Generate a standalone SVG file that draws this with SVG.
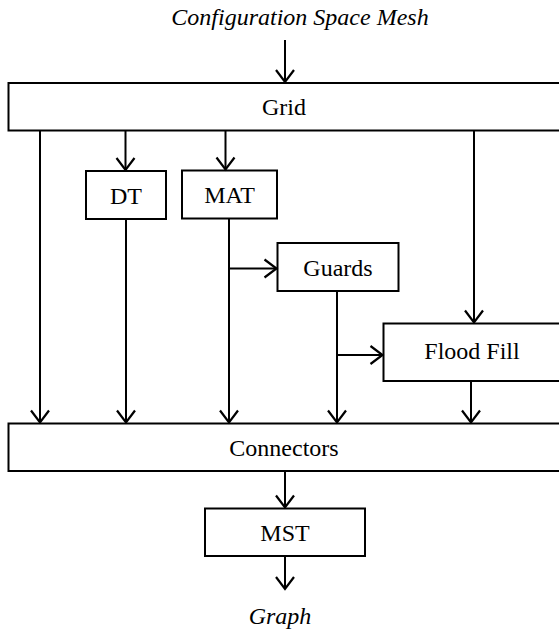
<svg xmlns="http://www.w3.org/2000/svg" width="559" height="631" viewBox="0 0 559 631">
  <style>
    .box { fill: #ffffff; stroke: #000000; stroke-width: 2; }
    .lbl { font-family: "Liberation Serif", "Times New Roman", serif; font-size: 24px; fill: #000000; text-anchor: middle; }
    .io { font-style: italic; }
    .wire { fill: none; stroke: #000000; stroke-width: 2; }
    .arr { marker-end: url(#head); }
  </style>
  <defs>
    <marker id="head" markerUnits="userSpaceOnUse" markerWidth="30" markerHeight="30" refX="0" refY="0" viewBox="-15 -15 30 30" orient="auto" overflow="visible">
      <path d="M-12,-9 L0,0 L-12,9" fill="none" stroke="#000000" stroke-width="2.2"/>
    </marker>
  </defs>

  <!-- input / output labels -->
  <text id="input" class="lbl io" x="300" y="25">Configuration Space Mesh</text>
  <text id="output" class="lbl io" x="280" y="624">Graph</text>

  <g id="grid">
    <rect class="box" x="8.5" y="83" width="570" height="47.5"/>
    <text class="lbl" x="284" y="115">Grid</text>
  </g>
  <g id="dt">
    <rect class="box" x="86" y="171" width="80" height="48"/>
    <text class="lbl" x="126" y="203.5">DT</text>
  </g>
  <g id="mat">
    <rect class="box" x="182" y="170.5" width="95" height="48"/>
    <text class="lbl" x="229.5" y="203">MAT</text>
  </g>
  <g id="guards">
    <rect class="box" x="277.5" y="243" width="121" height="48"/>
    <text class="lbl" x="338" y="275.5">Guards</text>
  </g>
  <g id="floodfill">
    <rect class="box" x="383.5" y="323.5" width="200" height="57.5"/>
    <text class="lbl" x="472" y="358.5">Flood Fill</text>
  </g>
  <g id="connectors">
    <rect class="box" x="8.5" y="423.5" width="570" height="47.5"/>
    <text class="lbl" x="284" y="455.5">Connectors</text>
  </g>
  <g id="mst">
    <rect class="box" x="205" y="508.5" width="160" height="47.5"/>
    <text class="lbl" x="285" y="540.5">MST</text>
  </g>

  <g id="edges">
    <!-- into Grid -->
    <line class="wire arr" x1="285" y1="40" x2="285" y2="82"/>
    <!-- Grid outputs -->
    <line class="wire arr" x1="40" y1="131" x2="40" y2="422.5"/>
    <line class="wire arr" x1="125.5" y1="131" x2="125.5" y2="170"/>
    <line class="wire arr" x1="225.5" y1="131" x2="225.5" y2="169.5"/>
    <line class="wire arr" x1="474" y1="131" x2="474" y2="322.5"/>
    <!-- DT to Connectors -->
    <line class="wire arr" x1="126" y1="219.5" x2="126" y2="422.5"/>
    <!-- MAT to Connectors, branch to Guards -->
    <line class="wire arr" x1="229" y1="219" x2="229" y2="422.5"/>
    <line class="wire arr" x1="229" y1="268.5" x2="276.5" y2="268.5"/>
    <!-- Guards to Connectors, branch to Flood Fill -->
    <line class="wire arr" x1="337" y1="291.5" x2="337" y2="422.5"/>
    <line class="wire arr" x1="337" y1="355" x2="382.5" y2="355"/>
    <!-- Flood Fill to Connectors -->
    <line class="wire arr" x1="471" y1="381.5" x2="471" y2="422.5"/>
    <!-- Connectors to MST, MST out -->
    <line class="wire arr" x1="285" y1="472" x2="285" y2="507.5"/>
    <line class="wire arr" x1="285" y1="557" x2="285" y2="589"/>
  </g>
</svg>
